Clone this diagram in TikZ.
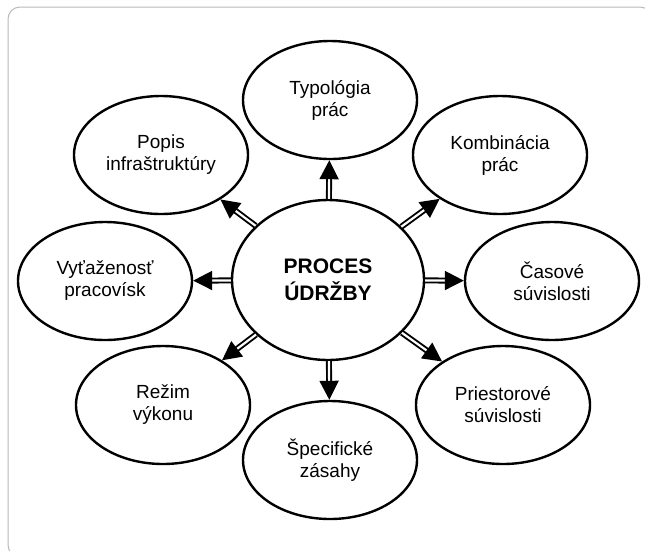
\documentclass[tikz,border=0pt]{standalone}
\usepackage{fontspec}
\setmainfont{Liberation Sans}
\usetikzlibrary{shapes.geometric,arrows.meta}
\tikzset{
  topic/.style={draw, ellipse, line width=2.4pt, minimum width=174pt, minimum height=118pt,
    inner sep=0pt, align=center, font=\fontsize{19}{22}\selectfont},
  core/.style={topic, minimum width=192pt, minimum height=160pt,
    font=\fontsize{21}{27}\selectfont\bfseries},
  link/.style={double=white, double distance=2.2pt, line width=1.9pt,
    -{Triangle[length=19pt,width=19pt]}},
}
\begin{document}
\begin{tikzpicture}[x=1pt,y=-1pt]
        \useasboundingbox (0,0) rectangle (645,550);

        %Frame
        \draw [gray!55, line width=1pt, rounded corners=12pt] (8,7) rectangle (652,557);

        %Center
        \node [core] (proc) at (328,280) {PROCES\\ÚDRŽBY};

        %Topics
        \node [topic] (typ) at (330,100) {Typológia\\prác};
        \node [topic] (komb) at (500,155) {Kombinácia\\prác};
        \node [topic] (cas) at (552,281) {Časové\\súvislosti};
        \node [topic] (priest) at (503,405) {Priestorové\\súvislosti};
        \node [topic] (spec) at (330,460) {Špecifické\\zásahy};
        \node [topic] (rezim) at (163,405) {Režim\\výkonu};
        \node [topic] (vyt) at (105,281) {Vyťaženosť\\pracovísk};
        \node [topic] (popis) at (161,155) {Popis\\infraštruktúry};

        %Arrows
        \foreach \t in {typ,komb,cas,priest,spec,rezim,vyt,popis}
          \draw [link] (proc) -- (\t);

\end{tikzpicture}
\end{document}
